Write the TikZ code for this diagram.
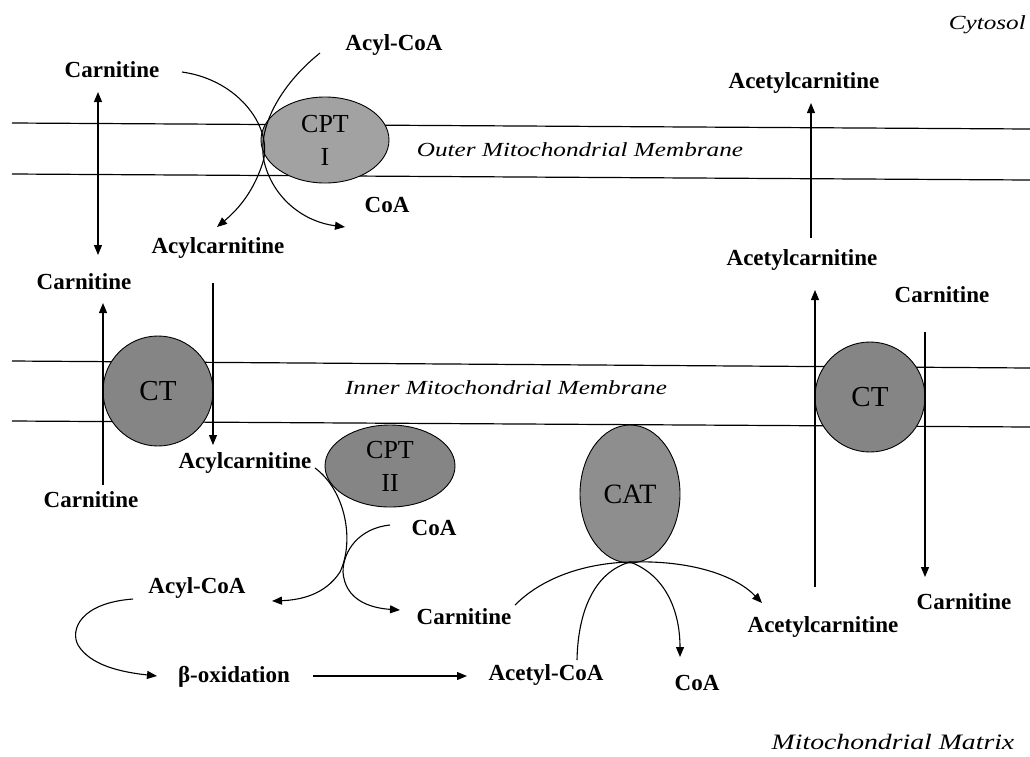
\documentclass[tikz,border=0pt]{standalone}
\usepackage{fontspec}
\setmainfont{Liberation Serif}
\newfontfamily\labelit{Liberation Serif}[FakeStretch=1.26]
\usetikzlibrary{arrows.meta,shapes.geometric}
\definecolor{cptone}{HTML}{A2A2A2}
\definecolor{enzdark}{HTML}{858585}
\definecolor{enzmid}{HTML}{8E8E8E}
\tikzset{
  lbl/.style={font=\bfseries\fontsize{23}{26}\selectfont, inner sep=1pt},
  reg/.style={font=\labelit\itshape\fontsize{20}{24}\selectfont, inner sep=0pt},
  enz/.style={draw=black, line width=0.9pt, inner sep=0pt, align=center,
              font=\fontsize{26}{33}\selectfont},
  mem/.style={line width=1.2pt},
  arr/.style={line width=1.1pt, -{Triangle[length=10pt,width=8pt]}},
  link/.style={line width=1.1pt},
}
\begin{document}
\begin{tikzpicture}[x=1pt,y=-1pt]
\useasboundingbox[fill=white] (0,0) rectangle (1030,756);

% membranes
\draw[mem] (12,123) -- (1030,129);
\draw[mem] (12,174) -- (1030,180);
\draw[mem] (12,361) -- (1030,368);
\draw[mem] (12,421) -- (1030,427);

% region labels
\node[reg, anchor=east] (cyto) at (1026,25) {Cytosol};
\node[reg] (omm) at (580,150) {Outer Mitochondrial Membrane};
\node[reg] (imm) at (506,388) {Inner Mitochondrial Membrane};
\node[reg, font=\labelit\itshape\fontsize{22}{26}\selectfont] (mm) at (893,742) {Mitochondrial Matrix};

% enzymes
\node[enz, ellipse, fill=cptone, minimum width=128pt, minimum height=86pt] (cpt1) at (325,140) {CPT\\I};
\node[enz, circle, fill=enzdark, minimum size=110pt, font=\fontsize{29}{32}\selectfont] (ctl) at (158,391) {CT};
\node[enz, circle, fill=enzdark, minimum size=110pt, font=\fontsize{29}{32}\selectfont] (ctr) at (870,397) {CT};
\node[enz, ellipse, fill=enzdark, minimum width=130pt, minimum height=82pt] (cpt2) at (390,466) {CPT\\II};
\node[enz, ellipse, fill=enzmid, minimum width=100pt, minimum height=138pt, font=\fontsize{28}{32}\selectfont] (cat) at (630,494) {CAT};

% metabolite labels
\node[lbl] (carA) at (112,70) {Carnitine};
\node[lbl] (acylcoaA) at (394,45) {Acyl-CoA};
\node[lbl] (coaA) at (387,205) {CoA};
\node[lbl] (acylcarA) at (218,248) {Acylcarnitine};
\node[lbl] (carB) at (84,282) {Carnitine};
\node[lbl] (acetcarA) at (804,83) {Acetylcarnitine};
\node[lbl] (acetcarB) at (802,260) {Acetylcarnitine};
\node[lbl] (carR1) at (942,295) {Carnitine};
\node[lbl] (acylcarB) at (245,463) {Acylcarnitine};
\node[lbl] (carC) at (91,500) {Carnitine};
\node[lbl] (coaB) at (434,528) {CoA};
\node[lbl] (acylcoaB) at (197,588) {Acyl-CoA};
\node[lbl] (carD) at (464,617) {Carnitine};
\node[lbl] (acetcarC) at (823,627) {Acetylcarnitine};
\node[lbl] (carR2) at (964,602) {Carnitine};
\node[lbl] (box) at (234,677) {β-oxidation};
\node[lbl] (acetcoa) at (546,675) {Acetyl-CoA};
\node[lbl] (coaC) at (697,683) {CoA};

% connector end points
\coordinate (p1s) at (182,72);
\coordinate (p1e) at (217,227);
\coordinate (p2s) at (320,53);
\coordinate (p2e) at (345,227);
\coordinate (cs1) at (98,92);
\coordinate (cs2) at (98,255);
\coordinate (u1s) at (103,485);
\coordinate (u1e) at (103,303);
\coordinate (d1s) at (213,283);
\coordinate (d1e) at (213,445);
\coordinate (aS) at (315,468);
\coordinate (aE) at (272,601);
\coordinate (bS) at (390,525);
\coordinate (bE) at (400,610);
\coordinate (oS) at (133,599);
\coordinate (oE) at (157,676);
\coordinate (bx1) at (313,676);
\coordinate (bx2) at (467,676);
\coordinate (catb) at (630,562);
\coordinate (cC) at (515,605);
\coordinate (cA) at (577,660);
\coordinate (cCoA) at (680,657);
\coordinate (cAc) at (762,603);
\coordinate (ru1s) at (815,587);
\coordinate (ru1e) at (815,290);
\coordinate (ru2s) at (811,238);
\coordinate (ru2e) at (811,103);
\coordinate (rd1s) at (925,332);
\coordinate (rd1e) at (925,577);

% CPT I reactions
\draw[arr] (p1s) .. controls (240,80) and (275,130) .. (262,165) .. controls (252,195) and (235,212) .. (p1e);
\draw[arr] (p2s) .. controls (280,85) and (255,130) .. (265,165) .. controls (275,200) and (305,222) .. (p2e);
\draw[link, {Triangle[length=10pt,width=8pt]}-{Triangle[length=10pt,width=8pt]}] (cs1) -- (cs2);

% left CT
\draw[arr] (u1s) -- (u1e);
\draw[arr] (d1s) -- (d1e);

% CPT II reactions
\draw[arr] (aS) .. controls (345,490) and (355,540) .. (340,572) .. controls (325,595) and (300,600) .. (aE);
\draw[arr] (bS) .. controls (360,528) and (343,550) .. (343,572) .. controls (345,600) and (370,608) .. (bE);

% beta oxidation
\draw[arr] (oS) .. controls (80,603) and (70,630) .. (78,645) .. controls (90,665) and (120,672) .. (oE);
\draw[arr] (bx1) -- (bx2);

% CAT reactions
\draw[link] (cC) .. controls (545,575) and (590,563) .. (catb);
\draw[link] (cA) .. controls (578,610) and (595,572) .. (catb);
\draw[arr] (catb) .. controls (665,575) and (680,610) .. (cCoA);
\draw[arr] (catb) .. controls (690,560) and (735,575) .. (cAc);

% right CT
\draw[arr] (ru1s) -- (ru1e);
\draw[arr] (ru2s) -- (ru2e);
\draw[arr] (rd1s) -- (rd1e);
\end{tikzpicture}
\end{document}
